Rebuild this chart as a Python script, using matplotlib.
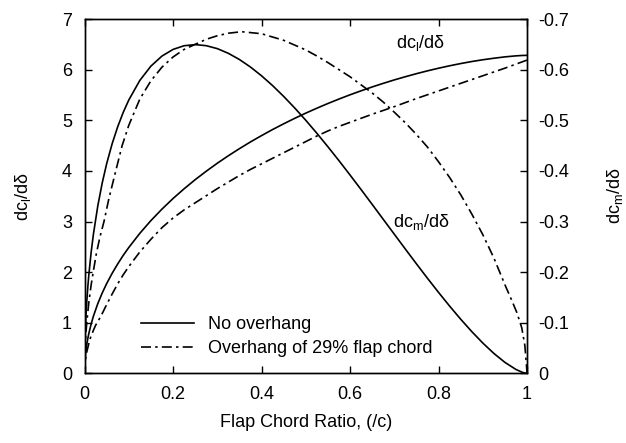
import matplotlib
matplotlib.use("Agg")
import matplotlib.pyplot as plt

# flap chord ratio grid for the no-overhang curves
ratio = [0, 0.0025, 0.005, 0.0075, 0.01, 0.015, 0.02, 0.03, 0.04, 0.05, 0.0625, 0.075,
         0.0875, 0.1, 0.125, 0.15, 0.175, 0.2, 0.225, 0.25, 0.275, 0.3, 0.325, 0.35,
         0.375, 0.4, 0.425, 0.45, 0.475, 0.5, 0.525, 0.55, 0.575, 0.6, 0.625, 0.65,
         0.675, 0.7, 0.725, 0.75, 0.775, 0.8, 0.825, 0.85, 0.875, 0.9, 0.925, 0.95,
         0.975, 0.99, 1.0]
cl_plain = [0, 0.400, 0.565, 0.692, 0.799, 0.976, 1.128, 1.379, 1.589, 1.774, 1.979,
            2.163, 2.333, 2.487, 2.768, 3.019, 3.246, 3.455, 3.647, 3.827, 3.994, 4.152,
            4.300, 4.440, 4.573, 4.698, 4.818, 4.931, 5.039, 5.142, 5.239, 5.332, 5.420,
            5.504, 5.583, 5.659, 5.730, 5.798, 5.861, 5.921, 5.977, 6.029, 6.077, 6.121,
            6.161, 6.196, 6.226, 6.253, 6.273, 6.281, 6.283]
cm_plain = [0, -0.0996, -0.1404, -0.1713, -0.1970, -0.2393, -0.2744, -0.3309, -0.3762,
            -0.4141, -0.4539, -0.4873, -0.5157, -0.5400, -0.5788, -0.6070, -0.6269,
            -0.6400, -0.6473, -0.6495, -0.6474, -0.6416, -0.6323, -0.6201, -0.6052,
            -0.5879, -0.5685, -0.5472, -0.5243, -0.5000, -0.4744, -0.4477, -0.4202,
            -0.3919, -0.3631, -0.3339, -0.3044, -0.2750, -0.2456, -0.2165, -0.1879,
            -0.1600, -0.1330, -0.1071, -0.0827, -0.0600, -0.0395, -0.0218, -0.0078,
            -0.0020, 0]

# overhang of 29% flap chord
ratio_oh_cl = [0, 0.0025, 0.005, 0.01, 0.014, 0.02, 0.025, 0.037, 0.05, 0.0625, 0.075,
               0.0875, 0.1, 0.125, 0.15, 0.175, 0.2, 0.225, 0.25, 0.275, 0.3, 0.325,
               0.35, 0.375, 0.4, 0.425, 0.45, 0.475, 0.5, 0.525, 0.55, 0.575, 0.6, 0.65,
               0.7, 0.75, 0.8, 0.85, 0.9, 0.95, 1.0]
cl_oh = [0, 0.30, 0.42, 0.60, 0.72, 0.85, 0.95, 1.13, 1.36, 1.57, 1.77, 1.95, 2.11, 2.40,
         2.65, 2.88, 3.07, 3.23, 3.37, 3.51, 3.65, 3.78, 3.91, 4.03, 4.14, 4.25, 4.36,
         4.47, 4.58, 4.69, 4.79, 4.88, 4.96, 5.12, 5.27, 5.43, 5.58, 5.73, 5.88, 6.03,
         6.19]

ratio_oh_cm = [0, 0.0025, 0.005, 0.01, 0.015, 0.02, 0.027, 0.035, 0.044, 0.055, 0.07,
               0.085, 0.1, 0.125, 0.15, 0.175, 0.2, 0.225, 0.25, 0.275, 0.3, 0.325,
               0.355, 0.4, 0.45, 0.5, 0.525, 0.55, 0.575, 0.6, 0.625, 0.65, 0.675, 0.7,
               0.725, 0.75, 0.775, 0.8, 0.825, 0.85, 0.875, 0.9, 0.925, 0.95, 0.965,
               0.977, 0.988, 0.995, 1.0]
cm_oh = [0, -0.070, -0.100, -0.142, -0.175, -0.202, -0.238, -0.270, -0.300, -0.345,
         -0.398, -0.450, -0.490, -0.542, -0.578, -0.605, -0.625, -0.640, -0.650, -0.660,
         -0.667, -0.672, -0.675, -0.671, -0.658, -0.639, -0.627, -0.614, -0.600,
         -0.586, -0.570, -0.554, -0.536, -0.516, -0.495, -0.472, -0.447, -0.418,
         -0.387, -0.353, -0.315, -0.274, -0.228, -0.175, -0.145, -0.120, -0.090,
         -0.055, 0]

plt.rcParams['font.family'] = ['Liberation Sans', 'DejaVu Sans']
plt.rcParams['mathtext.default'] = 'regular'
plt.rcParams['font.size'] = 13

dashdot = (0, (6, 2.5, 1.5, 2.5))

fig = plt.figure(figsize=(6.26, 4.43), dpi=100)
ax = fig.add_axes([0.135, 0.157, 0.707, 0.800])
ax2 = ax.twinx()

ax.plot(ratio, cl_plain, color='black', lw=1.2, label='No overhang')
ax.plot(ratio_oh_cl, cl_oh, color='black', lw=1.2, linestyle=dashdot,
        label='Overhang of 29% flap chord')
ax2.plot(ratio, cm_plain, color='black', lw=1.2)
ax2.plot(ratio_oh_cm, cm_oh, color='black', lw=1.2, linestyle=dashdot)

ax.set_xlim(0, 1)
ax.set_ylim(0, 7)
ax2.set_ylim(0, -0.7)
ax.set_xticks([0, 0.2, 0.4, 0.6, 0.8, 1])
ax.set_xticklabels(['0', '0.2', '0.4', '0.6', '0.8', '1'])
ax.set_yticks(range(8))
ax2.set_yticks([0, -0.1, -0.2, -0.3, -0.4, -0.5, -0.6, -0.7])
ax2.set_yticklabels(['0', '-0.1', '-0.2', '-0.3', '-0.4', '-0.5', '-0.6', '-0.7'])

ax.tick_params(direction='in', length=5, width=1, top=True, right=False, pad=9)
ax.tick_params(axis='x', pad=9)
ax2.tick_params(direction='in', length=5, width=1, pad=8)
for a in (ax, ax2):
    for s in a.spines.values():
        s.set_linewidth(1.0)

ax.set_xlabel('Flap Chord Ratio, (/c)', labelpad=8)
ax.set_ylabel('dc$_l$/dδ', labelpad=21)
ax2.set_ylabel('dc$_m$/dδ', labelpad=26)

ax.text(0.76, 6.52, 'dc$_l$/dδ', ha='center', va='center')
ax.text(0.76, 3.0, 'dc$_m$/dδ', ha='center', va='center')

ax.legend(loc='lower left', bbox_to_anchor=(0.092, 0.0), frameon=False,
          handlelength=2.9, handletextpad=0.8, labelspacing=0.4)

fig.savefig('out.png', dpi=100)
